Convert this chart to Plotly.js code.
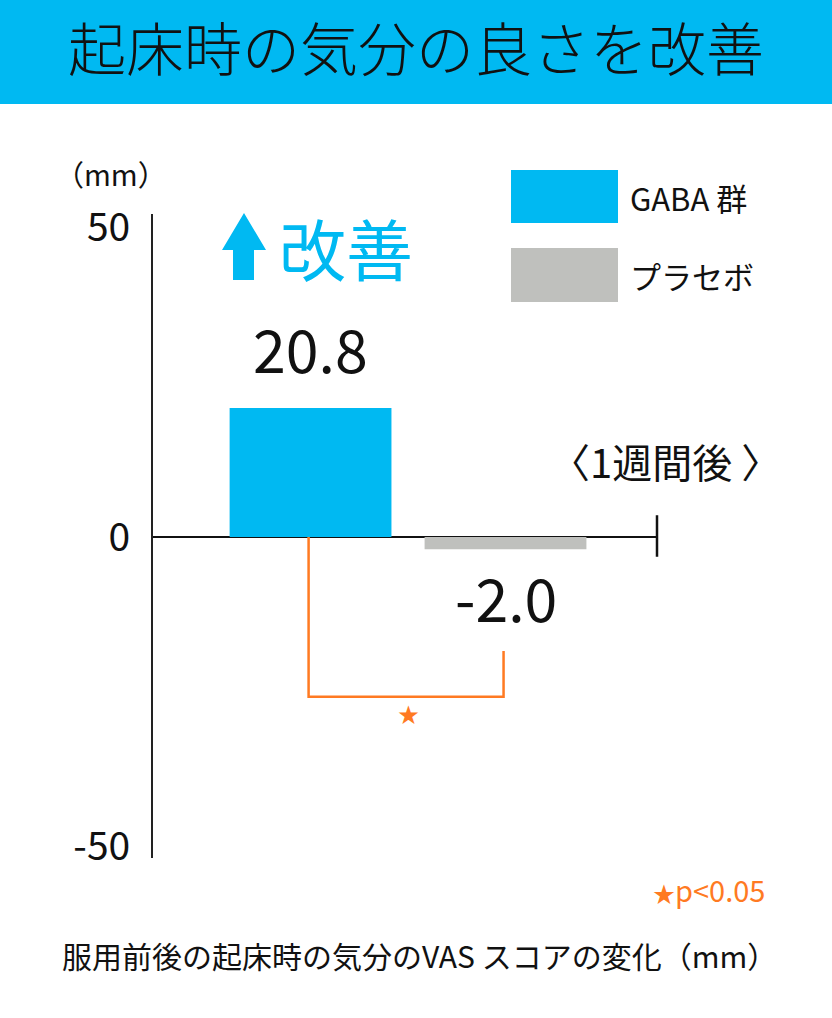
<!DOCTYPE html>
<html>
<head>
<meta charset="utf-8">
<script src="https://cdn.plot.ly/plotly-3.0.1.min.js"></script>
<style>html,body{margin:0;padding:0;background:#fff;}#chart{width:832px;height:1018px;}</style>
</head>
<body>
<div id="chart"></div>
<script>
// ---- data ----
const titleText = "起床時の気分の良さを改善";
const categories = ["GABA 群", "プラセボ"];
const values = [20.8, -2.0];
const tickValues = [-50, 0, 50];
const tickLabels = ["-50", "0", "50"];
const unitLabel = "（mm）";
const periodLabel = "〈1週間後 〉";
const improveLabel = "改善";
const sigMark = "★";
const sigNote = "p<0.05";
const footnote = "服用前後の起床時の気分のVAS スコアの変化（mm）";
const bracketLow = -25.8;   // bracket base level
const bracketRightTop = -18.4;

// ---- style ----
const BLUE = "#00B9F2";
const GRAY = "#BFC0BD";
const ORANGE = "#FF7A22";
const INK = "#111111";
const FONT = "Noto Sans CJK JP, Noto Sans, sans-serif";
const barColors = [BLUE, GRAY];

const L = 153, R = 657, T = 214, B = 858;
const PX = x => (x - L) / (R - L);
const PY = y => (B - y) / (B - T);

const trace = {
  type: "bar",
  x: categories,
  y: values,
  width: 0.83,
  marker: { color: barColors, line: { width: 0 } },
  hoverinfo: "x+y",
  showlegend: false
};

const annotations = [
  { x: PX(416), y: PY(46), xref: "paper", yref: "paper", text: titleText, showarrow: false,
    xanchor: "center", yanchor: "middle", font: { family: FONT, size: 58, weight: 300, color: INK } },
  { x: categories[0], y: values[0], xref: "x", yref: "y", text: values[0].toFixed(1),
    showarrow: false, yanchor: "middle", yshift: 61, font: { family: FONT, size: 59, color: INK } },
  { x: categories[1], y: values[1], xref: "x", yref: "y", text: values[1].toFixed(1),
    showarrow: false, yanchor: "middle", yshift: -47, font: { family: FONT, size: 59, color: INK } },
  { x: 0.5, y: bracketLow, xref: "x", yref: "y", text: sigMark, showarrow: false,
    yanchor: "middle", yshift: -16, font: { family: FONT, size: 21, color: ORANGE } },
  { x: PX(111), y: PY(173), xref: "paper", yref: "paper", text: unitLabel, showarrow: false,
    xanchor: "center", yanchor: "middle", font: { family: FONT, size: 29, color: INK } },
  { x: PX(346), y: PY(246), xref: "paper", yref: "paper", text: improveLabel, showarrow: false,
    xanchor: "center", yanchor: "middle", font: { family: FONT, size: 67, color: BLUE } },
  { x: PX(628), y: PY(197), xref: "paper", yref: "paper", text: categories[0], showarrow: false,
    xanchor: "left", yanchor: "middle", font: { family: FONT, size: 31, color: INK } },
  { x: PX(628), y: PY(275), xref: "paper", yref: "paper", text: categories[1], showarrow: false,
    xanchor: "left", yanchor: "middle", font: { family: FONT, size: 31, color: INK } },
  { x: PX(665), y: PY(461), xref: "paper", yref: "paper", text: periodLabel, showarrow: false,
    xanchor: "center", yanchor: "middle", font: { family: FONT, size: 40, color: INK } },
  { x: PX(767), y: PY(889), xref: "paper", yref: "paper",
    text: '<span style="font-size:22px">' + sigMark + '</span>' + sigNote, showarrow: false,
    xanchor: "right", yanchor: "middle", font: { family: FONT, size: 29, color: ORANGE } },
  { x: PX(60), y: PY(955), xref: "paper", yref: "paper", text: footnote, showarrow: false,
    xanchor: "left", yanchor: "middle", font: { family: FONT, size: 30, color: INK } }
];

const arrowPath = [
  [244, 213], [266, 250], [254, 250], [254, 280], [233, 280], [233, 250], [222, 250]
].map((p, i) => (i === 0 ? "M" : "L") + PX(p[0]) + "," + PY(p[1])).join(" ") + " Z";

const shapes = [
  { type: "rect", xref: "paper", yref: "paper", x0: PX(0), x1: PX(832), y0: PY(104), y1: PY(0),
    fillcolor: BLUE, line: { width: 0 }, layer: "below" },
  { type: "path", xref: "paper", yref: "paper", path: arrowPath, fillcolor: BLUE, line: { width: 0 } },
  { type: "rect", xref: "paper", yref: "paper", x0: PX(511), x1: PX(618), y0: PY(223), y1: PY(170),
    fillcolor: BLUE, line: { width: 0 } },
  { type: "rect", xref: "paper", yref: "paper", x0: PX(511), x1: PX(618), y0: PY(302), y1: PY(248),
    fillcolor: GRAY, line: { width: 0 } },
  // end tick of the zero line
  { type: "line", xref: "paper", yref: "y", x0: 1, x1: 1, y0: 3.5, y1: -3.2,
    line: { color: INK, width: 2.5 } },
  // significance bracket
  { type: "path", xref: "x", yref: "y",
    path: `M -0.01,0 L -0.01,${bracketLow} L 0.99,${bracketLow} L 0.99,${bracketRightTop}`,
    line: { color: ORANGE, width: 2.5 } }
];

const layout = {
  width: 832, height: 1018, autosize: false,
  margin: { l: L, r: 832 - R, t: T, b: 1018 - B, pad: 0 },
  paper_bgcolor: "#fff", plot_bgcolor: "rgba(0,0,0,0)",
  xaxis: { type: "category", range: [-0.808, 1.777], showline: false, showticklabels: false,
    showgrid: false, zeroline: false, ticks: "", fixedrange: true },
  yaxis: { range: [-51.8, 52.1], tickmode: "array", tickvals: tickValues, ticktext: tickLabels,
    showgrid: false, zeroline: true, zerolinecolor: INK, zerolinewidth: 2.5,
    showline: true, linecolor: "#222", linewidth: 2, ticks: "", ticklabelstandoff: 13,
    tickfont: { family: FONT, size: 39, color: INK }, fixedrange: true },
  bargap: 0.2,
  showlegend: false,
  annotations: annotations,
  shapes: shapes
};

Plotly.newPlot("chart", [trace], layout, { displayModeBar: false, staticPlot: true });
</script>
</body>
</html>
